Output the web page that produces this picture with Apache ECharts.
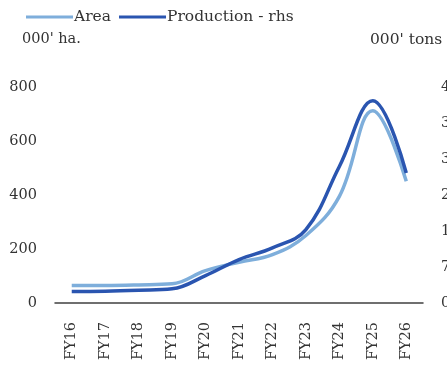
<!DOCTYPE html>
<html>
<head>
<meta charset="utf-8">
<script src="https://cdn.jsdelivr.net/npm/echarts@6/dist/echarts.min.js"></script>
<style>
  html, body { margin: 0; padding: 0; background: #fff; }
  #chart { width: 447px; height: 366px; }
</style>
</head>
<body>
<div id="chart"></div>
<script>
// values
const years = ['FY16', 'FY17', 'FY18', 'FY19', 'FY20', 'FY21', 'FY22', 'FY23', 'FY24', 'FY25', 'FY26'];
const area = [65, 65, 67, 71, 120, 151, 179, 250, 395, 712, 451];             // 000' ha.
const production = [240, 245, 265, 295, 572, 905, 1148, 1529, 2845, 4212, 2708]; // 000' tons, rhs

const leftTicks = { min: 0, max: 800, interval: 200 };
const rightTicks = { min: 0, max: 4500, interval: 750 };

const fontFamily = '"DejaVu Serif", "Liberation Serif", serif';
const textColor = '#333';
const fontSize = 14.5;

const chart = echarts.init(document.getElementById('chart'), null, { renderer: 'canvas' });

chart.setOption({
  animation: false,
  textStyle: { fontFamily: fontFamily },
  legend: {
    left: 21,
    top: 4,
    itemWidth: 47,
    itemHeight: 3,
    itemGap: 8,
    icon: 'rect',
    textStyle: { fontFamily: fontFamily, fontSize: 15.5, color: textColor, padding: [0, 0, 0, -4] },
    data: ['Area', 'Production - rhs']
  },
  graphic: [
    { type: 'text', left: 22, top: 32, style: { text: "000' ha.", font: fontSize + 'px ' + fontFamily, fill: textColor } },
    { type: 'text', left: 370, top: 32, style: { text: "000' tons", font: '15.5px ' + fontFamily, fill: textColor } }
  ],
  grid: { left: 55, right: 24, top: 87, bottom: 63, outerBoundsMode: 'none' },
  xAxis: {
    type: 'category',
    data: years,
    boundaryGap: true,
    axisLine: { lineStyle: { color: '#404040', width: 1.5 } },
    axisTick: { show: false },
    axisLabel: { rotate: 90, margin: 19, fontSize: fontSize, color: textColor, fontFamily: fontFamily }
  },
  yAxis: [
    {
      type: 'value',
      min: leftTicks.min, max: leftTicks.max, interval: leftTicks.interval,
      splitLine: { show: false },
      axisLine: { show: false },
      axisTick: { show: false },
      axisLabel: { margin: 18, fontSize: fontSize, color: textColor, fontFamily: fontFamily }
    },
    {
      type: 'value',
      min: rightTicks.min, max: rightTicks.max, interval: rightTicks.interval,
      splitLine: { show: false },
      axisLine: { show: false },
      axisTick: { show: false },
      axisLabel: {
        margin: 18, fontSize: fontSize, color: textColor, fontFamily: fontFamily,
        formatter: v => v.toLocaleString('en-US')
      }
    }
  ],
  series: [
    {
      name: 'Area',
      type: 'line',
      yAxisIndex: 0,
      data: area,
      smooth: 0.4,
      symbol: 'none',
      lineStyle: { width: 3.5, color: '#7eaedb' },
      itemStyle: { color: '#7eaedb' }
    },
    {
      name: 'Production - rhs',
      type: 'line',
      yAxisIndex: 1,
      data: production,
      smooth: 0.4,
      symbol: 'none',
      lineStyle: { width: 3.5, color: '#2a55b0' },
      itemStyle: { color: '#2a55b0' }
    }
  ]
});
</script>
</body>
</html>
